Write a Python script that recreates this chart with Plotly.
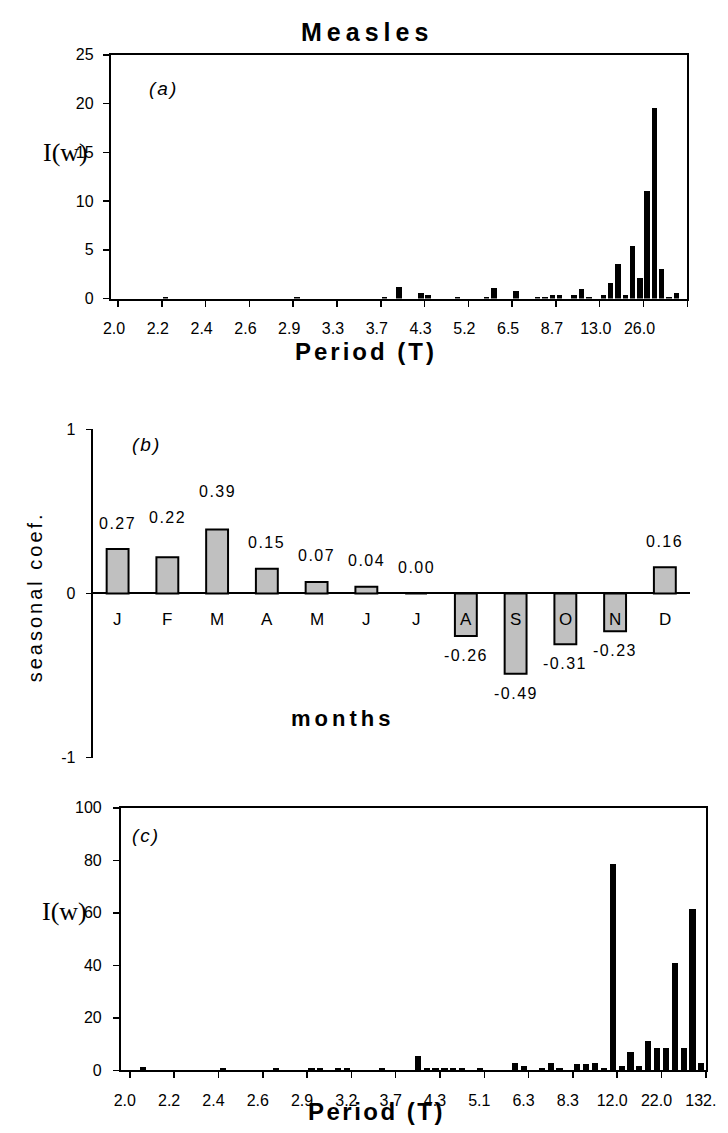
import plotly.graph_objects as go

W, H = 728, 1133

# ---------------- data ----------------
# (a) periodogram, weekly series: 79 frequency bins, left to right
power_a = [0, 0, 0, 0, 0, 0, 0, 0.15, 0, 0,
           0, 0, 0, 0, 0, 0, 0, 0, 0, 0,
           0, 0, 0, 0, 0, 0.15, 0, 0, 0, 0,
           0, 0, 0, 0, 0, 0, 0, 0.2, 0, 1.15,
           0, 0, 0.6, 0.4, 0, 0, 0, 0.2, 0, 0,
           0, 0.2, 1.1, 0, 0, 0.75, 0, 0, 0.2, 0.2,
           0.4, 0.4, 0, 0.4, 1.0, 0.2, 0, 0.4, 1.55, 3.55,
           0.4, 5.4, 2.1, 11.0, 19.5, 3.0, 0.2, 0.6, 0]
period_labels_a = ["2.0", "2.2", "2.4", "2.6", "2.9", "3.3", "3.7",
                   "4.3", "5.2", "6.5", "8.7", "13.0", "26.0"]

# (b) seasonal coefficients
month_labels = ["J", "F", "M", "A", "M", "J", "J", "A", "S", "O", "N", "D"]
seasonal_coef = [0.27, 0.22, 0.39, 0.15, 0.07, 0.04, 0.00,
                 -0.26, -0.49, -0.31, -0.23, 0.16]

# (c) periodogram, monthly series: 66 frequency bins, left to right
power_c = [0, 0, 1.4, 0, 0, 0, 0, 0, 0, 0,
           0, 0.7, 0, 0, 0, 0, 0, 0.7, 0, 0,
           0, 0.7, 0.7, 0, 0.7, 0.7, 0, 0, 0, 0.8,
           0, 0, 0, 5.6, 0.8, 0.8, 0.8, 0.8, 0.8, 0,
           0.8, 0, 0, 0, 2.9, 1.6, 0, 0.8, 2.9, 0.8,
           0, 2.25, 2.25, 2.9, 0.8, 78.5, 1.6, 7.0, 1.6, 11.1,
           8.4, 8.4, 41.0, 8.4, 61.5, 2.9]
period_labels_c = ["2.0", "2.2", "2.4", "2.6", "2.9", "3.2", "3.7",
                   "4.3", "5.1", "6.3", "8.3", "12.0", "22.0", "132."]

# ---------------- helpers ----------------
SANS = "Liberation Sans, Arial, sans-serif"
SERIF = "Liberation Serif, Times New Roman, serif"


def px(x):
    return x / W


def py(y):
    return 1 - y / H


def spaced(text, ls):
    return f'<span style="letter-spacing:{ls}px">{text}</span>'


fig = go.Figure()

fig.add_trace(go.Bar(x=list(range(len(power_a))), y=power_a, width=0.75,
                     marker=dict(color="black", line=dict(width=0)),
                     xaxis="x", yaxis="y", showlegend=False, hoverinfo="skip"))
fig.add_trace(go.Bar(x=list(range(len(seasonal_coef))), y=seasonal_coef, width=0.44,
                     marker=dict(color="#C0C0C0", line=dict(color="black", width=2)),
                     xaxis="x2", yaxis="y2", showlegend=False, hoverinfo="skip"))
fig.add_trace(go.Bar(x=list(range(len(power_c))), y=power_c, width=0.7,
                     marker=dict(color="black", line=dict(width=0)),
                     xaxis="x3", yaxis="y3", showlegend=False, hoverinfo="skip"))

tickfont = dict(family=SANS, size=16, color="black")
axis_common = dict(showgrid=False, zeroline=False, showline=True, linecolor="black",
                   linewidth=2, ticks="outside", tickcolor="black", tickwidth=1.5,
                   tickfont=tickfont, fixedrange=True)

step_a = 6
ticks_a = [i * step_a + 0.5 for i in range(len(period_labels_a))] + [len(power_a) - 0.5]
step_c = 5
ticks_c = [i * step_c + 0.5 for i in range(len(period_labels_c))]

fig.update_layout(
    width=W, height=H, margin=dict(l=0, r=0, t=0, b=0), autosize=False,
    paper_bgcolor="white", plot_bgcolor="white", bargap=0,
    xaxis=dict(axis_common, domain=[px(105.5), px(697.5)], anchor="y",
               range=[-0.5, len(power_a) - 0.5], mirror=True,
               tickmode="array", tickvals=ticks_a, ticktext=period_labels_a + [""],
               ticklen=6, ticklabelshift=-4, ticklabelstandoff=8),
    yaxis=dict(axis_common, domain=[py(295), py(47.5)], anchor="x",
               range=[0, 25], mirror=True, tickmode="linear", tick0=0, dtick=5,
               ticklen=6, ticklabelstandoff=6),
    xaxis2=dict(showgrid=False, zeroline=False, showline=False, ticks="",
                showticklabels=False, domain=[px(87), px(700)], anchor="y2",
                range=[-0.5, len(seasonal_coef) - 0.5], fixedrange=True),
    yaxis2=dict(axis_common, domain=[py(761), py(427.7)], anchor="x2",
                range=[-1, 1], tickmode="array", tickvals=[-1, 0, 1],
                ticktext=["-1", "0", "1"], ticklen=5, ticklabelstandoff=7,
                zeroline=True, zerolinecolor="black", zerolinewidth=2),
    xaxis3=dict(axis_common, domain=[px(116), px(716.5)], anchor="y3",
                range=[-0.5, len(power_c) - 0.5], mirror=True,
                tickmode="array", tickvals=ticks_c, ticktext=period_labels_c,
                ticklen=6, ticklabelshift=-5, ticklabelstandoff=8),
    yaxis3=dict(axis_common, domain=[py(1078.5), py(812)], anchor="x3",
                range=[0, 100], mirror=True, tickmode="linear", tick0=0, dtick=20,
                ticklen=6, ticklabelstandoff=8),
)

ann = []


def paper_text(text, x, y, size, family=SANS, angle=0):
    ann.append(dict(text=text, x=px(x), y=py(y), xref="paper", yref="paper",
                    xanchor="center", yanchor="middle", showarrow=False,
                    textangle=angle, font=dict(family=family, size=size, color="black")))


paper_text(spaced("<b>Measles</b>", 5), 369, 24, 25)
paper_text(spaced("<i>(a)</i>", 2), 160, 82, 19)
paper_text(spaced("<i>(b)</i>", 2), 142, 443, 19)
paper_text(spaced("<i>(c)</i>", 2), 142, 840, 19)
paper_text("I(w)", 59, 147, 26, family=SERIF)
paper_text("I(w)", 58, 917, 26, family=SERIF)
paper_text(spaced("<b>Period (T)</b>", 3), 368, 349, 24)
paper_text(spaced("<b>Period (T)</b>", 2.5), 378, 1120, 24)
paper_text(spaced("<b>months</b>", 4), 343, 721, 22)
paper_text(spaced("seasonal coef.", 3), 28, 598, 20, angle=-90)

label_lift = {1: 14, 2: 12}
for i, v in enumerate(seasonal_coef):
    shift = 26 + label_lift.get(i, 0) if v >= 0 else -19.5
    ann.append(dict(text=spaced(f"{v:.2f}", 1.5), x=i, y=v, xref="x2", yref="y2",
                    yshift=shift, xanchor="center", yanchor="middle", showarrow=False,
                    font=dict(family=SANS, size=16, color="black")))
for i, m in enumerate(month_labels):
    ann.append(dict(text=m, x=i, y=0, xref="x2", yref="y2", yshift=-26,
                    xanchor="center", yanchor="middle", showarrow=False,
                    font=dict(family=SANS, size=17, color="black")))

fig.update_layout(annotations=ann)

fig.write_html("out.html",
               config={"displayModeBar": False, "staticPlot": True},
               post_script="document.body.style.margin='0';"
                           "document.body.style.overflow='hidden';")
